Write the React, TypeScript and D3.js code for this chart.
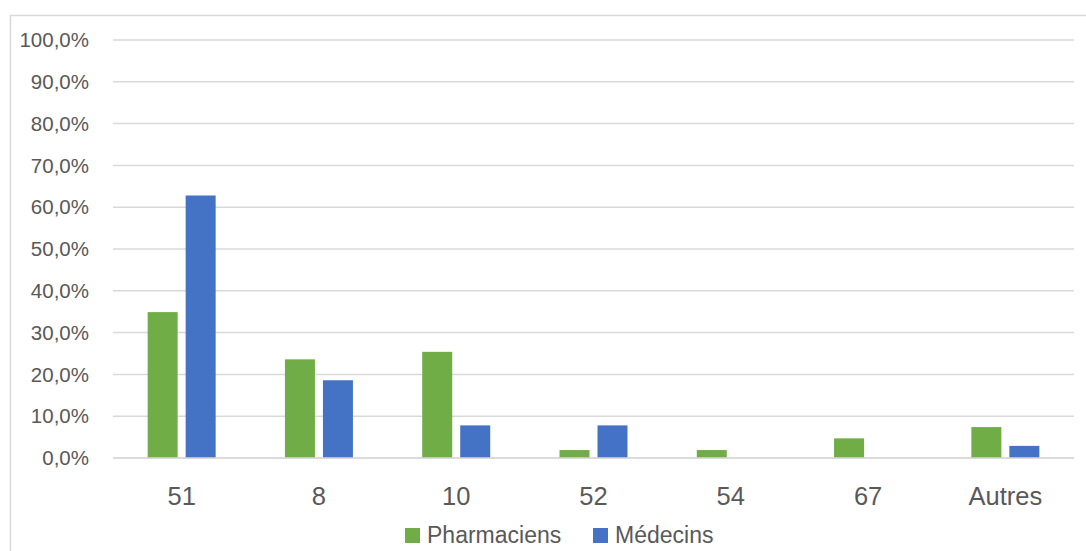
import React from "react";
import * as d3 from "d3";

const categories = ["51", "8", "10", "52", "54", "67", "Autres"];
const seriesNames = ["Pharmaciens", "Médecins"];
const pharmaciens = [34.9, 23.6, 25.4, 1.9, 1.9, 4.7, 7.4];
const medecins = [62.8, 18.6, 7.8, 7.8, 0, 0, 2.9];
const yTicks = [0, 10, 20, 30, 40, 50, 60, 70, 80, 90, 100];
const colors = ["#70ad47", "#4472c4"];

const W = 1086;
const H = 551;
const FONT = "'Liberation Sans', Arial, sans-serif";

export default function App() {
  const left = 113;
  const right = 1074;
  const top = 40;
  const bottom = 458;

  const x0 = d3.scaleBand<string>().domain(categories).range([left, right]).padding(0);
  const groupW = 68;
  const x1 = d3
    .scaleBand<string>()
    .domain(seriesNames)
    .range([(x0.bandwidth() - groupW) / 2, (x0.bandwidth() + groupW) / 2])
    .paddingInner(8 / 38);
  const y = d3.scaleLinear().domain([0, 100]).range([bottom, top]);
  const values = [pharmaciens, medecins];
  const fmt = (v: number) => v.toFixed(1).replace(".", ",") + "%";

  return (
    <svg width={W} height={H} style={{ position: "absolute", left: 0, top: 0, background: "#fff" }}>
      <rect x={0} y={0} width={W} height={H} fill="#fff" />
      <path d={`M10.5,${H} V15.5 H${W}`} fill="none" stroke="#d9d9d9" strokeWidth={1.5} />
      {yTicks.map((t) => (
        <g key={t}>
          <line x1={left} x2={right} y1={y(t)} y2={y(t)} stroke="#d9d9d9" strokeWidth={1.5} />
          <text
            x={89}
            y={y(t)}
            dy="0.35em"
            textAnchor="end"
            fontFamily={FONT}
            fontSize={20.5}
            fill="#595959"
          >
            {fmt(t)}
          </text>
        </g>
      ))}
      {categories.map((c, i) => (
        <g key={c} transform={`translate(${x0(c)},0)`}>
          {seriesNames.map((s, si) =>
            values[si][i] > 0 ? (
              <rect
                key={s}
                x={x1(s)}
                width={x1.bandwidth()}
                y={y(values[si][i])}
                height={bottom - y(values[si][i])}
                fill={colors[si]}
              />
            ) : null
          )}
          <text
            x={x0.bandwidth() / 2}
            y={505}
            textAnchor="middle"
            fontFamily={FONT}
            fontSize={25.5}
            fill="#595959"
          >
            {c}
          </text>
        </g>
      ))}
      <line x1={left} x2={right} y1={bottom} y2={bottom} stroke="#d9d9d9" strokeWidth={1.5} />
      {seriesNames.map((s, si) => {
        const lx = [405, 593][si];
        return (
          <g key={s}>
            <rect x={lx} y={528} width={15} height={15} fill={colors[si]} />
            <text x={lx + 22} y={543} fontFamily={FONT} fontSize={23} fill="#595959">
              {s}
            </text>
          </g>
        );
      })}
    </svg>
  );
}
